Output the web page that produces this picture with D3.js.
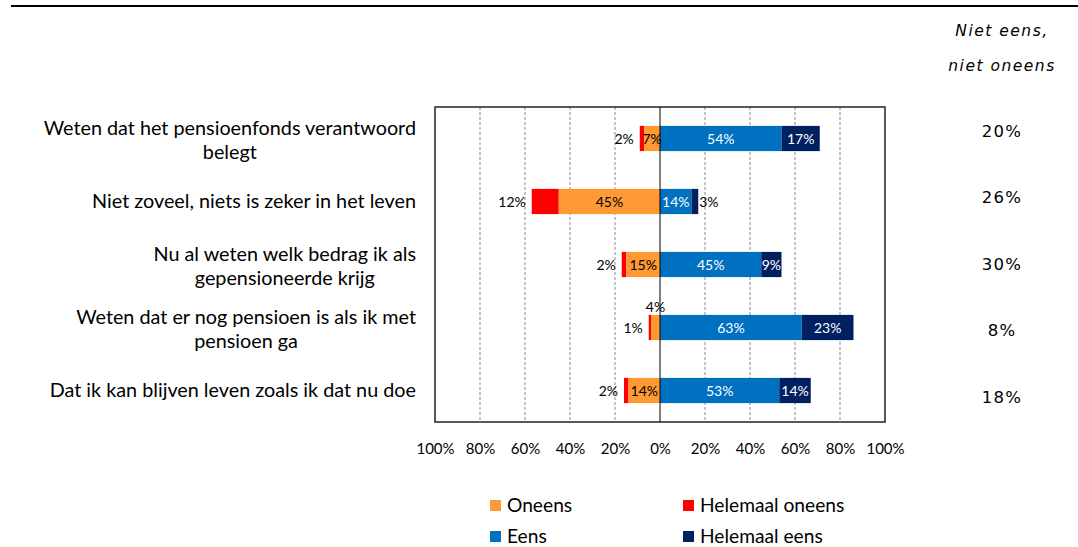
<!DOCTYPE html>
<html><head><meta charset="utf-8">
<script src="https://cdn.jsdelivr.net/npm/d3@7"></script>
<style>body{margin:0;background:#fff}svg{display:block}</style>
</head><body>
<script>
const categories = [
  ["Weten dat het pensioenfonds verantwoord","belegt"],
  ["Niet zoveel, niets is zeker in het leven"],
  ["Nu al weten welk bedrag ik als","gepensioneerde krijg"],
  ["Weten dat er nog pensioen is als ik met","pensioen ga"],
  ["Dat ik kan blijven leven zoals ik dat nu doe"]
];
const helemaalOneens = [2,12,2,1,2];
const oneens = [7,45,15,4,14];
const eens = [54,14,45,63,53];
const helemaalEens = [17,3,9,23,14];
const neutraal = [20,26,30,8,18];
const ticks = [-100,-80,-60,-40,-20,0,20,40,60,80,100];
const legendItems = [["Oneens","#FF9933"],["Helemaal oneens","#FF0000"],["Eens","#0070C0"],["Helemaal eens","#002060"]];

const W=1078,H=547;
const LF = "Lato, 'Open Sans', sans-serif";
const svg = d3.select("body").append("svg").attr("width",W).attr("height",H);

const x = d3.scaleLinear().domain([-100,100]).range([435,885]);
const idx = d3.range(categories.length);
const y = d3.scaleBand().domain(idx).range([107,422]).paddingInner(0.6).paddingOuter(0.3);
const yN = d3.scalePoint().domain(idx).range([131,397]);

// top rule
svg.append("line").attr("x1",11).attr("x2",W).attr("y1",6).attr("y2",6).attr("stroke","#000").attr("stroke-width",2);

// header
const hd = svg.append("text").attr("text-anchor","middle").attr("font-family","'DejaVu Sans',Verdana,sans-serif")
  .attr("font-style","italic").attr("font-size",15.5).attr("letter-spacing",1.5).attr("fill","#000");
hd.append("tspan").attr("x",1002).attr("y",36).text("Niet eens,");
hd.append("tspan").attr("x",1002).attr("y",71).text("niet oneens");

// grid
svg.append("g").selectAll("line").data(ticks.filter(t=>t!==0 && Math.abs(t)!==100)).join("line")
  .attr("x1",d=>x(d)).attr("x2",d=>x(d)).attr("y1",107).attr("y2",422)
  .attr("stroke","#888").attr("stroke-dasharray","3,2").attr("stroke-width",1);

// bars
const segs = [];
idx.forEach(i=>{
  segs.push({i, x0:-(oneens[i]+helemaalOneens[i]), x1:-oneens[i], v:helemaalOneens[i], c:"#FF0000", k:"ho"});
  segs.push({i, x0:-oneens[i], x1:0, v:oneens[i], c:"#FF9933", k:"o"});
  segs.push({i, x0:0, x1:eens[i], v:eens[i], c:"#0070C0", k:"e"});
  segs.push({i, x0:eens[i], x1:eens[i]+helemaalEens[i], v:helemaalEens[i], c:"#002060", k:"he"});
});
svg.append("g").selectAll("rect").data(segs).join("rect")
  .attr("x",d=>x(d.x0)).attr("width",d=>x(d.x1)-x(d.x0))
  .attr("y",d=>y(d.i)).attr("height",y.bandwidth()).attr("fill",d=>d.c);

// frame
svg.append("rect").attr("x",435).attr("y",107).attr("width",450).attr("height",315)
  .attr("fill","none").attr("stroke","#222").attr("stroke-width",1.5);
svg.append("line").attr("x1",x(0)).attr("x2",x(0)).attr("y1",107).attr("y2",422).attr("stroke","#000").attr("stroke-width",1);

// bar labels
const lab = svg.append("g").attr("font-family",LF).attr("font-size",14);
segs.forEach(d=>{
  const cy = y(d.i)+y.bandwidth()/2+5;
  const t = lab.append("text").text(d.v+"%");
  if(d.k==="ho"){
    t.attr("x",x(d.x0)-6).attr("y",cy).attr("text-anchor","end").attr("fill","#000");
  } else if(d.k==="o"){
    if(d.v<5) t.attr("x",(x(d.x0)+x(d.x1))/2).attr("y",y(d.i)-3).attr("text-anchor","middle").attr("fill","#000");
    else t.attr("x",(x(d.x0)+x(d.x1))/2).attr("y",cy).attr("text-anchor","middle").attr("fill","#000");
  } else if(d.k==="he" && d.v<5){
    t.attr("x",x(d.x1)+1).attr("y",cy).attr("text-anchor","start").attr("fill","#000");
  } else {
    t.attr("x",(x(d.x0)+x(d.x1))/2).attr("y",cy).attr("text-anchor","middle").attr("fill","#fff");
  }
});

// x axis labels
const ax = d3.axisBottom(x).tickValues(ticks).tickFormat(d=>Math.abs(d)+"%").tickSize(0).tickPadding(0);
const axg = svg.append("g").attr("transform","translate(0,449)").call(ax);
axg.select(".domain").remove();
axg.selectAll("text").attr("font-family",LF).attr("font-size",15).attr("fill","#000").attr("dy","0.35em");

// category labels
const cl = svg.append("g").attr("font-family",LF).attr("font-size",19.8).attr("fill","#000");
idx.forEach(i=>{
  const lines = categories[i];
  const cy = y(i)+y.bandwidth()/2;
  const t = cl.append("text").attr("text-anchor","middle");
  const spans = lines.map((s,j)=>t.append("tspan").text(s));
  const mw = d3.max(spans,s=>s.node().getComputedTextLength());
  const cx = 416 - mw/2;
  const base = lines.length===1 ? cy+6 : cy-4;
  spans.forEach((s,j)=>s.attr("x",cx).attr("y",base+j*24));
});

// neutral column
svg.append("g").selectAll("text").data(idx).join("text")
  .attr("x",1002).attr("y",i=>yN(i)).attr("dy","0.35em").attr("text-anchor","middle")
  .attr("font-family","'DejaVu Sans',Verdana,sans-serif").attr("font-size",16.5).attr("letter-spacing",1.2)
  .text(i=>neutraal[i]+"%");

// legend
const lg = svg.append("g").attr("font-family",LF).attr("font-size",19.2);
legendItems.forEach((d,k)=>{
  const col=k%2,row=Math.floor(k/2);
  const gx = col===0?490:683, gy = row===0?500:531;
  lg.append("rect").attr("x",gx).attr("y",gy).attr("width",11).attr("height",11).attr("fill",d[1]);
  lg.append("text").attr("x",gx+17).attr("y",gy+12).text(d[0]);
});
</script>
</body></html>
